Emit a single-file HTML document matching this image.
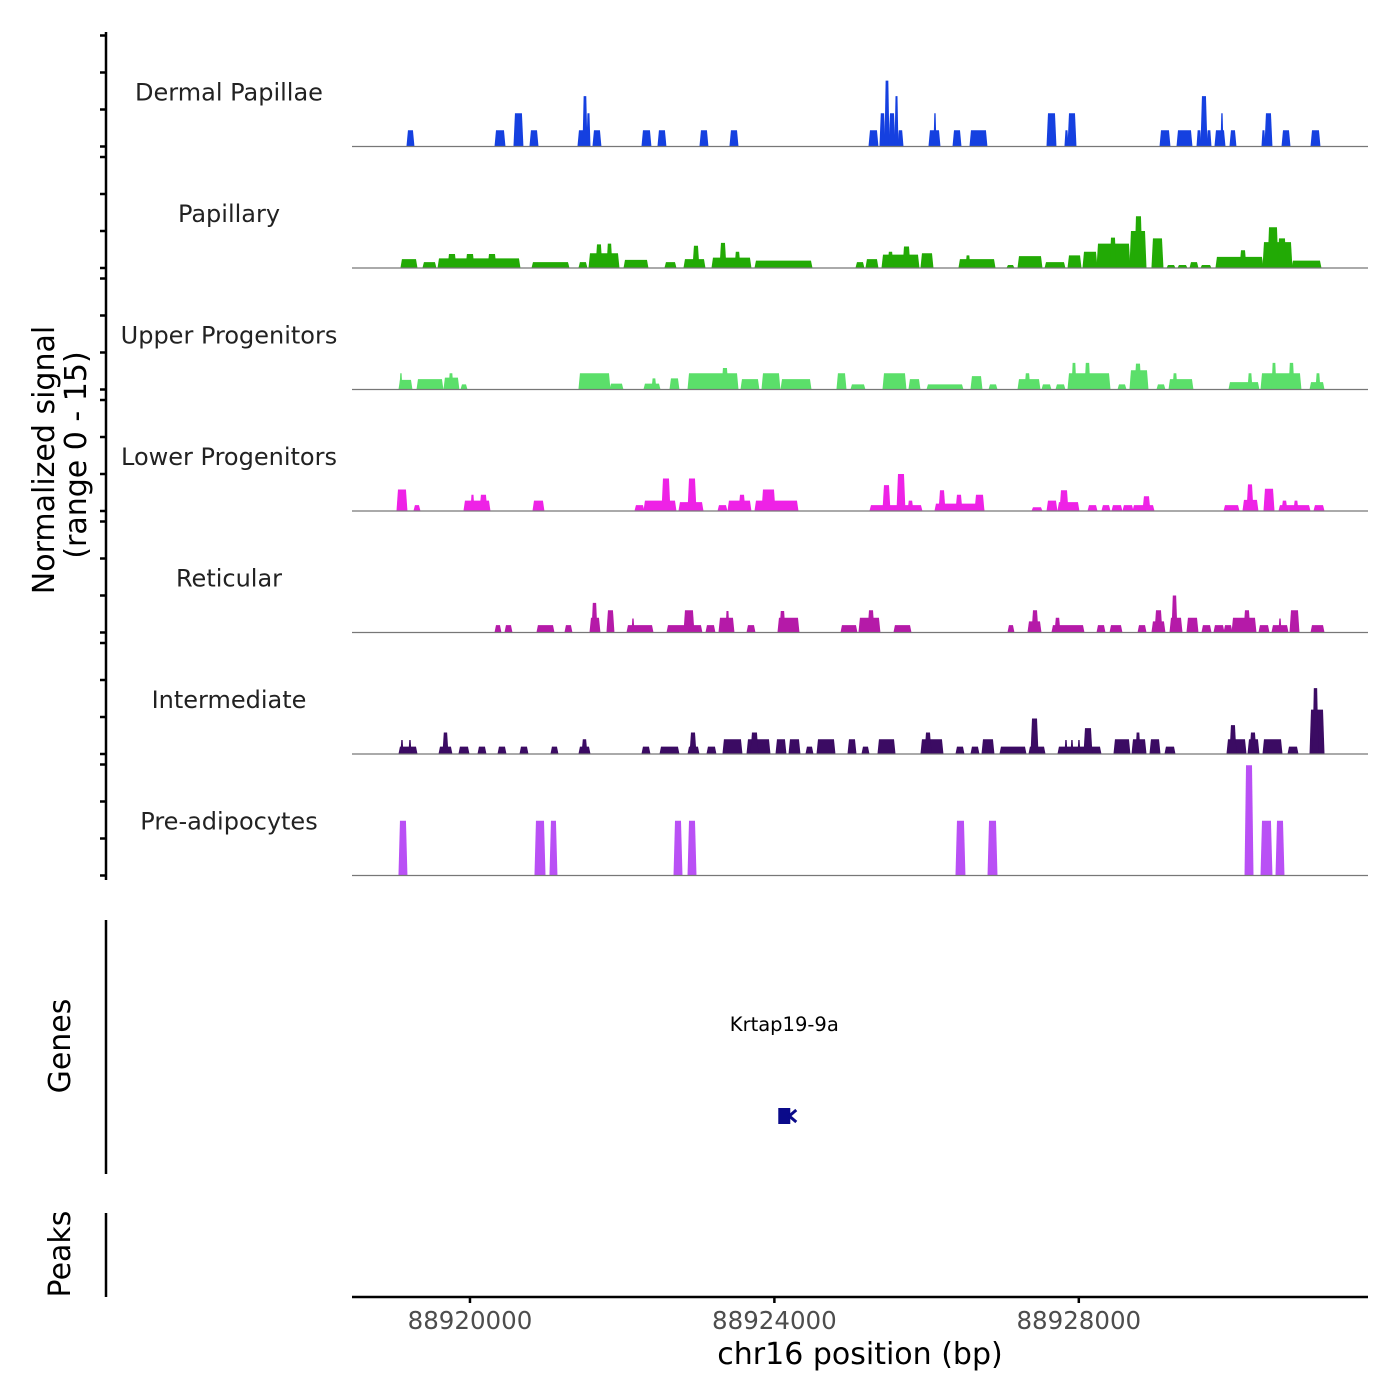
<!DOCTYPE html>
<html><head><meta charset="utf-8">
<style>
html,body{margin:0;padding:0;background:#fff;}
svg{display:block;font-family:"DejaVu Sans","Liberation Sans",sans-serif;}
</style></head>
<body>
<svg id="chart" width="1400" height="1400" viewBox="0 0 1400 1400" xmlns="http://www.w3.org/2000/svg">
  <rect width="1400" height="1400" fill="#fff"/>
  <g id="tracks"></g>
  <g id="yaxis"></g>
  <text transform="translate(54,460) rotate(-90)" text-anchor="middle" font-size="30" fill="#000">Normalized signal</text>
  <text transform="translate(86,455) rotate(-90)" text-anchor="middle" font-size="30" fill="#000">(range 0 - 15)</text>
  <line x1="106" y1="920" x2="106" y2="1174" stroke="#000" stroke-width="2.5"/>
  <text transform="translate(70,1046) rotate(-90)" text-anchor="middle" font-size="30" fill="#000">Genes</text>
  <line x1="106" y1="1213" x2="106" y2="1297" stroke="#000" stroke-width="2.5"/>
  <text transform="translate(70,1254) rotate(-90)" text-anchor="middle" font-size="30" fill="#000">Peaks</text>
  <g id="genes"></g>
  <g id="xaxis"></g>
  <text x="860" y="1364" text-anchor="middle" font-size="30" fill="#000">chr16 position (bp)</text>
</svg>
<script>
const xMin = 88918450, xMax = 88931800;
const trackNames = ["Dermal Papillae","Papillary","Upper Progenitors","Lower Progenitors","Reticular","Intermediate","Pre-adipocytes"];
const trackColors = ["#1540e0","#22aa05","#5bdf6a","#ee22e6","#b51aa8","#3b0b63","#b950f5"];
const xTicks = [88920000, 88924000, 88928000];
const yTicks = [0, 5, 10, 15];
const genePos = [88924130];
const geneNames = ["Krtap19-9a"];

const dpRegions = [[88919172,88919264,2.2],[88920329,88920460,2.2],[88920578,88920696,4.5],[88920788,88920894,2.2],[88921419,88921498,2.2],[88921485,88921537,6.8],[88921537,88921577,4.5],[88921616,88921721,2.2],[88922260,88922378,2.2],[88922470,88922575,2.2],[88923022,88923127,2.2],[88923416,88923522,2.2],[88925243,88925361,2.2],[88925387,88925453,4.5],[88925453,88925506,8.9],[88925506,88925585,4.5],[88925585,88925624,6.8],[88925624,88925690,2.2],[88926031,88926176,2.2],[88926097,88926123,4.5],[88926347,88926452,2.2],[88926570,88926793,2.2],[88927582,88927700,4.5],[88927818,88927858,2.2],[88927858,88927963,4.5],[88929067,88929198,2.2],[88929290,88929487,2.2],[88929553,88929605,2.2],[88929605,88929684,6.8],[88929684,88929737,2.2],[88929789,88929921,2.2],[88929868,88929894,4.5],[88929986,88930065,2.2],[88930407,88930446,2.2],[88930446,88930538,4.5],[88930670,88930775,2.2],[88931051,88931169,2.2]];
const papRegions = [[88919093,88919304,1.2],[88919382,88919553,0.8],[88919580,88920657,1.3],[88919711,88919816,1.9],[88919947,88920053,1.9],[88920237,88920342,1.9],[88920815,88921301,0.8],[88921432,88921537,0.8],[88921564,88921958,2],[88921656,88921734,3.2],[88921800,88921866,3.3],[88922024,88922339,1.1],[88922562,88922707,0.8],[88922812,88923088,1.2],[88922930,88923009,3],[88923180,88923692,1.4],[88923285,88923364,3.4],[88923482,88923548,2.2],[88923745,88924494,1],[88925072,88925177,0.8],[88925203,88925361,1.2],[88925414,88925900,1.8],[88925493,88925558,2.2],[88925690,88925782,2.9],[88925926,88926084,2],[88926425,88926899,1.2],[88926517,88926570,1.7],[88927056,88927148,0.4],[88927201,88927516,1.6],[88927556,88927818,0.8],[88927858,88928029,1.7],[88928055,88928239,2.2],[88928239,88928672,3.3],[88928410,88928488,4.1],[88928672,88928883,5],[88928738,88928830,7],[88928961,88929106,4],[88929159,88929264,0.4],[88929303,88929421,0.4],[88929461,88929566,0.8],[88929605,88929737,0.4],[88929802,88930420,1.5],[88930118,88930197,2.4],[88930420,88930801,3.5],[88930486,88930617,5.5],[88930617,88930722,4],[88930801,88931182,1]];
const upRegions = [[88919067,88919238,1.3],[88919080,88919106,2.2],[88919304,88919645,1.4],[88919658,88919855,1.6],[88919724,88919777,2.2],[88919882,88919961,0.7],[88921432,88921840,2.2],[88921840,88922010,0.8],[88922286,88922497,0.8],[88922391,88922444,1.5],[88922628,88922746,1.5],[88922865,88923522,2.2],[88923311,88923390,2.9],[88923561,88923797,1.4],[88923837,88924073,2.2],[88924087,88924481,1.4],[88924822,88924941,2.2],[88925006,88925190,0.7],[88925427,88925729,2.2],[88925768,88925913,1.4],[88926005,88926478,0.7],[88926583,88926728,1.8],[88926820,88926925,0.7],[88927201,88927490,1.4],[88927293,88927358,2.2],[88927516,88927634,0.7],[88927700,88927818,0.7],[88927858,88928410,2.2],[88927910,88927963,3.6],[88928081,88928147,3.6],[88928515,88928620,0.7],[88928672,88928909,2.6],[88928738,88928817,3.5],[88929027,88929132,0.7],[88929185,88929500,1.4],[88929237,88929290,2.2],[88929973,88930367,1],[88930223,88930276,2.2],[88930394,88930919,2.2],[88930538,88930591,3.6],[88930762,88930827,3.6],[88931038,88931222,1],[88931116,88931169,2.2]];
const lowRegions = [[88919041,88919172,2.9],[88919264,88919343,0.8],[88919921,88920263,1.4],[88920013,88920053,2.2],[88920131,88920223,2.2],[88920828,88920972,1.4],[88922168,88922286,0.8],[88922286,88922707,1.4],[88922523,88922628,4.4],[88922746,88923062,1.2],[88922865,88922970,4.4],[88923259,88923377,0.8],[88923390,88923692,1.4],[88923535,88923614,2.2],[88923745,88924310,1.4],[88923837,88924008,2.9],[88925256,88925939,0.8],[88925427,88925519,3.5],[88925611,88925716,5],[88925755,88925821,1.4],[88926110,88926754,1],[88926163,88926242,2.8],[88926386,88926465,2.2],[88926636,88926754,2.2],[88927385,88927516,0.5],[88927582,88927713,1.4],[88927726,88928002,1.2],[88927753,88927858,2.8],[88928121,88928239,0.8],[88928304,88928410,0.8],[88928436,88928567,0.8],[88928580,88928712,0.8],[88928712,88928988,0.8],[88928843,88928935,2],[88929908,88930105,0.8],[88930157,88930354,1.5],[88930210,88930289,3.6],[88930433,88930565,3],[88930630,88931038,0.8],[88930670,88930735,1.4],[88930827,88930880,1.4],[88931090,88931222,0.8]];
const retRegions = [[88920329,88920407,1],[88920460,88920552,1],[88920880,88921104,1],[88921248,88921340,1],[88921577,88921708,2],[88921603,88921669,4],[88921800,88921892,3],[88922063,88922405,1],[88922129,88922155,1.9],[88922589,88923048,1],[88922812,88922943,3],[88923101,88923219,1],[88923272,88923469,2],[88923364,88923403,2.9],[88923640,88923745,1],[88924047,88924323,2],[88924073,88924139,2.9],[88924875,88925085,1],[88925111,88925387,2],[88925230,88925309,3],[88925571,88925795,1],[88927069,88927148,1],[88927332,88927503,1.5],[88927385,88927464,3],[88927647,88928068,1],[88927687,88927753,2],[88928239,88928344,1],[88928410,88928567,1],[88928778,88928883,1],[88928961,88929132,1.5],[88929001,88929093,3],[88929198,88929356,2],[88929224,88929290,5],[88929421,88929566,2],[88929618,88929737,1],[88929776,88929908,1],[88929908,88930013,1],[88930013,88930328,2],[88930170,88930249,3],[88930367,88930499,1],[88930538,88930749,1],[88930630,88930657,1.9],[88930775,88930893,3],[88931051,88931222,1]];
const intRegions = [[88919067,88919304,1],[88919093,88919120,1.9],[88919198,88919225,1.9],[88919593,88919763,1],[88919645,88919711,2.9],[88919855,88919987,1],[88920105,88920210,1],[88920368,88920473,1],[88920657,88920762,1],[88921064,88921156,1],[88921432,88921577,1],[88921472,88921537,2],[88922260,88922365,1],[88922497,88922746,1],[88922865,88923009,1],[88922891,88922970,2.9],[88923114,88923232,1],[88923324,88923574,2],[88923640,88923942,2],[88923692,88923784,2.9],[88924021,88924152,2],[88924192,88924336,2],[88924415,88924507,1],[88924560,88924796,2],[88924967,88925072,2],[88925151,88925243,1],[88925361,88925585,2],[88925926,88926215,2],[88925979,88926058,2.9],[88926386,88926491,1],[88926583,88926688,1],[88926728,88926885,2],[88926964,88927306,1],[88927345,88927556,1],[88927372,88927464,4.8],[88927726,88928291,1],[88927818,88927845,1.9],[88927897,88927923,1.9],[88927989,88928015,1.9],[88928068,88928173,3.5],[88928462,88928672,2],[88928699,88928883,2],[88928751,88928804,2.9],[88928935,88929067,2],[88929132,88929264,1],[88929947,88930197,2],[88929986,88930065,3.9],[88930223,88930367,2],[88930249,88930328,2.9],[88930420,88930670,2],[88930749,88930880,1],[88931038,88931222,6],[88931077,88931143,8.9]];
const preRegions = [[88919067,88919172,7.4],[88920854,88920986,7.4],[88921051,88921143,7.4],[88922681,88922786,7.4],[88922865,88922970,7.4],[88926386,88926504,7.4],[88926807,88926925,7.4],[88930184,88930289,14.9],[88930394,88930538,7.4],[88930591,88930696,7.4]];
const allRegions = [dpRegions, papRegions, upRegions, lowRegions, retRegions, intRegions, preRegions];

const NS = "http://www.w3.org/2000/svg";
const plotL = 352, plotR = 1368;
const baselines = [146.5, 268, 389.5, 511, 632.5, 754, 875.5];
const unitPx = 111 / 15;
function xs(bp){ return plotL + (bp - xMin) / (xMax - xMin) * (plotR - plotL); }
function ys(t, v){ return baselines[t] - v * unitPx; }
function mk(tag, attrs, parent){
  const e = document.createElementNS(NS, tag);
  for (const k in attrs) e.setAttribute(k, attrs[k]);
  parent.appendChild(e);
  return e;
}

const tracks = document.getElementById('tracks');
const yaxis = document.getElementById('yaxis');
for (let t = 0; t < trackNames.length; t++){
  const g = mk('g', {}, tracks);
  
  
  const lbl = mk('text', {x: 229, y: baselines[t] - 46, 'text-anchor': 'middle', 'font-size': 24, fill: '#222'}, g);
  
  
  lbl.textContent = trackNames[t];
  allRegions[t].forEach(r => {
    const x1 = xs(r[0]), x2 = xs(r[1]), y0 = baselines[t], y1 = ys(t, r[2]);
    const inset = Math.min(1, (x2 - x1) / 6);
    const p = mk('polygon', {points: `${x1-0.5},${y0} ${x1+inset},${y1} ${x2-inset},${y1} ${x2+0.5},${y0}`, fill: trackColors[t]}, g);
    
    
  });
  const bl = mk('line', {x1: plotL, x2: plotR, y1: baselines[t], y2: baselines[t], stroke: '#777', 'stroke-width': 1.2}, g);
  
  
  yTicks.forEach(v => {
    const tk = mk('line', {x1: 100, x2: 106, y1: ys(t, v), y2: ys(t, v), stroke: '#000', 'stroke-width': 2.5}, yaxis);
    
    
  });
}
const ax = mk('line', {x1: 106, x2: 106, y1: 32, y2: 880, stroke: '#000', 'stroke-width': 2.5}, yaxis);



const genes = document.getElementById('genes');
genePos.forEach((p, i) => {
  const cx = xs(p);
  const tx = mk('text', {x: cx, y: 1031, 'text-anchor': 'middle', 'font-size': 19.5, fill: '#000'}, genes);
  
  
  tx.textContent = geneNames[i];
  const b = mk('rect', {x: cx - 6, y: 1108, width: 12, height: 16, fill: '#0a0a8a'}, genes);
  
  
  const a = mk('path', {d: `M${cx+12},1110 L${cx+5},1116 L${cx+12},1122`, stroke: '#0a0a8a', 'stroke-width': 3, fill: 'none'}, genes);
  
  
});

const xaxis = document.getElementById('xaxis');
const xl = mk('line', {x1: plotL, x2: plotR, y1: 1297, y2: 1297, stroke: '#000', 'stroke-width': 2.5}, xaxis);


xTicks.forEach(v => {
  const x = xs(v);
  const tk = mk('line', {x1: x, x2: x, y1: 1297, y2: 1303, stroke: '#000', 'stroke-width': 2.5}, xaxis);
  
  
  const lb = mk('text', {x: x, y: 1329, 'text-anchor': 'middle', 'font-size': 24.5, fill: '#4d4d4d'}, xaxis);
  
  
  lb.textContent = String(v);
});
</script>
</body></html>
